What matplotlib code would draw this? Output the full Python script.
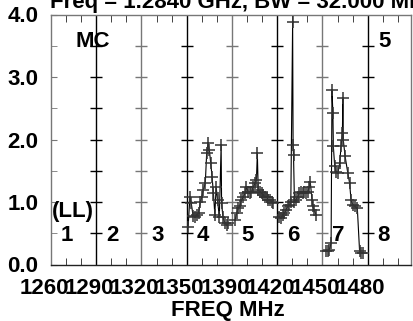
import matplotlib
matplotlib.use("Agg")
import matplotlib.pyplot as plt
import matplotlib.transforms as mtransforms

plt.rcParams['font.family'] = ['Liberation Sans', 'DejaVu Sans']
plt.rcParams['font.weight'] = 'bold'

# ---- data ----
title = "Freq = 1.2840 GHz, BW = 32.000 MHz"
xlabel = "FREQ MHz"
freq_labels = ["1260", "1290", "1320", "1350", "1390", "1420", "1450", "1480"]
panel_numbers = ["1", "2", "3", "4", "5", "6", "7", "8"]
y_ticks = [0.0, 1.0, 2.0, 3.0, 4.0]
y_tick_labels = ["0.0", "1.0", "2.0", "3.0", "4.0"]

# channel offsets within each panel (fraction of panel) and values
p4_x = [0.03, 0.07, 0.10, 0.14, 0.18, 0.22, 0.26, 0.30, 0.33, 0.37, 0.41, 0.44, 0.47, 0.50,
        0.53, 0.56, 0.59, 0.62, 0.65, 0.68, 0.72, 0.76, 0.77, 0.80, 0.84, 0.88, 0.92]
p4_y = [0.60, 1.08, 0.98, 0.78, 0.76, 0.79, 0.82, 1.00, 1.08, 1.20, 1.30, 1.78, 1.94, 1.83,
        1.62, 1.40, 1.14, 0.80, 1.24, 1.03, 0.76, 1.91, 0.98, 0.76, 0.66, 0.64, 0.66]

p5_x = [0.07, 0.10, 0.14, 0.17, 0.21, 0.25, 0.29, 0.32, 0.36, 0.40, 0.43, 0.47, 0.51, 0.54,
        0.56, 0.58, 0.62, 0.66, 0.69, 0.73, 0.77, 0.80, 0.84, 0.88, 0.91]
p5_y = [0.71, 0.82, 0.90, 0.93, 1.03, 1.08, 1.14, 1.24, 1.16, 1.14, 1.16, 1.24, 1.30, 1.35,
        1.78, 1.19, 1.16, 1.14, 1.11, 1.08, 1.08, 1.03, 1.03, 1.00, 0.98]

p6_x = [0.04, 0.08, 0.12, 0.16, 0.19, 0.23, 0.27, 0.30, 0.34, 0.35, 0.36, 0.38, 0.41, 0.45,
        0.49, 0.52, 0.56, 0.60, 0.63, 0.67, 0.71, 0.73, 0.77, 0.78, 0.82, 0.86]
p6_y = [0.76, 0.74, 0.79, 0.82, 0.87, 0.93, 0.95, 1.00, 3.88, 1.91, 1.75, 1.00, 1.03, 1.08,
        1.14, 1.16, 1.15, 1.16, 1.14, 1.16, 1.24, 1.32, 1.03, 0.93, 0.87, 0.79]

p7_x = [0.08, 0.12, 0.15, 0.19, 0.21, 0.23, 0.24, 0.27, 0.30, 0.34, 0.38, 0.41, 0.44, 0.45,
        0.46, 0.50, 0.56, 0.60, 0.63, 0.67, 0.71, 0.77, 0.82, 0.85, 0.89]
p7_y = [0.21, 0.21, 0.23, 0.34, 2.79, 2.42, 1.89, 1.57, 1.48, 1.46, 1.62, 1.89, 2.10, 2.66,
        1.99, 1.73, 1.46, 1.30, 1.03, 0.95, 0.93, 0.90, 0.21, 0.18, 0.19]

panels = [(3, p4_x, p4_y), (4, p5_x, p5_y), (5, p6_x, p6_y), (6, p7_x, p7_y)]

# ---- figure ----
W, H = 413, 321
fig = plt.figure(figsize=(W / 100, H / 100), dpi=100)
left, right, top, bottom = 51, 410.5, 14.5, 264.5
ax = fig.add_axes([left / W, 1 - bottom / H, (right - left) / W, (bottom - top) / H])
xmax = 7.945
ax.set_xlim(0, xmax)
ax.set_ylim(0, 4)

for s in ax.spines.values():
    s.set_color('#777777')
    s.set_linewidth(1.0)
ax.spines['bottom'].set_color('#222222')

# panel boundaries
for i in range(1, 8):
    col = 'black' if i % 2 == 1 else '#777777'
    ax.axvline(i, color=col, lw=1.0, zorder=1)
    for v in [0.5 * k for k in range(1, 8)]:
        ax.plot([i], [v], marker='_', ms=8, mew=1.0, color=col, zorder=1)

fs = 16
# axis ticks
ax.set_yticks(y_ticks)
ax.set_yticklabels(y_tick_labels, fontsize=fs, fontweight='bold')
ax.set_yticks([0.5 * k for k in range(9)], minor=True)
ax.tick_params(axis='y', which='both', direction='in', length=4, color='#777777', pad=9)

ax.set_xticks(list(range(8)))
ax.set_xticklabels(freq_labels, fontsize=fs, fontweight='bold')
ax.set_xticks([k / 3 for k in range(1, 24) if k % 3 != 0], minor=True)
ax.tick_params(axis='x', which='major', length=0, pad=10)
ax.tick_params(axis='x', which='minor', direction='in', length=5, top=True, bottom=True,
               color='#222222')
offset = mtransforms.ScaledTranslation(-7 / 100, 0, fig.dpi_scale_trans)
for lbl in ax.get_xticklabels():
    lbl.set_transform(lbl.get_transform() + offset)

ax.set_xlabel(xlabel, fontsize=fs, fontweight='bold')
ax.xaxis.set_label_coords((228 - left) / (right - left), -(316 - bottom) / (bottom - top))
ax.xaxis.label.set_va('baseline')

# data
for p, xs, ys in panels:
    gx = [p + f for f in xs]
    ax.plot(gx, ys, color='black', lw=0.8, zorder=3)
    ax.plot(gx, ys, ls='none', marker='+', ms=8, mew=1.1, color='#333333', zorder=4)

# annotations
for i, n in enumerate(panel_numbers):
    ax.text(i + 0.35, 0.46, n, ha='center', va='center', fontsize=fs, fontweight='bold', zorder=5)
ax.text(0.03, 0.84, "(LL)", ha='left', va='center', fontsize=fs, fontweight='bold', zorder=5)
ax.text(0.92, 3.57, "MC", ha='center', va='center', fontsize=fs, fontweight='bold', zorder=5)
ax.text(7.38, 3.57, "5", ha='center', va='center', fontsize=fs, fontweight='bold', zorder=5)

fig.text(50 / W, 1 - 8 / H, title, ha='left', va='baseline', fontsize=fs, fontweight='bold')

fig.savefig("out.png", dpi=100)
